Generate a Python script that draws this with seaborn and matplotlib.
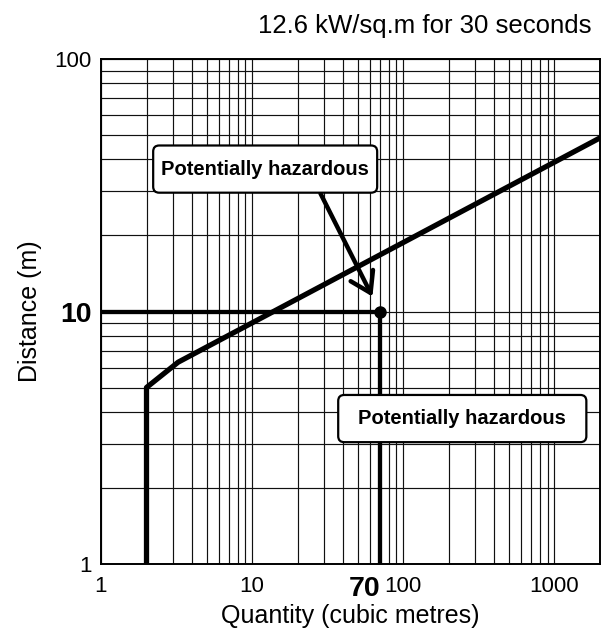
import numpy as np
import pandas as pd
import matplotlib
matplotlib.use("Agg")
import matplotlib.pyplot as plt
from matplotlib.ticker import LogLocator, NullFormatter
from matplotlib.patches import BoxStyle
import seaborn as sns

# Separation distance curve (quantity in m^3, distance in m)
quantity = [2, 2, 3.24, 2000]
distance = [1, 5, 6.3, 48.7]

# Worked example reading
mark_quantity = 70
mark_distance = 10

x_ticks = [1, 10, 70, 100, 1000]
x_tick_labels = ["1", "10", "70", "100", "1000"]
y_ticks = [1, 10, 100]
y_tick_labels = ["1", "10", "100"]

title = "12.6 kW/sq.m for 30 seconds"
x_label = "Quantity (cubic metres)"
y_label = "Distance (m)"
note_text = "Potentially hazardous"

sns.set_style("white")
plt.rcParams["font.family"] = ["Liberation Sans", "DejaVu Sans"]
plt.rcParams["text.color"] = "black"


def padded_round(padx, pady, radius=0.3):
    """Rounded box with separate horizontal and vertical padding."""
    base = BoxStyle.Round(pad=0, rounding_size=radius)

    def style(x0, y0, width, height, mutation_size):
        px = padx * mutation_size
        py = pady * mutation_size
        return base(x0 - px, y0 - py, width + 2 * px, height + 2 * py, mutation_size)
    return style


fig = plt.figure(figsize=(6.1, 6.33), dpi=100)
ax = fig.add_axes([101 / 610, 69 / 633, 499 / 610, 505 / 633])
ax.set_xscale("log")
ax.set_yscale("log")
ax.set_xlim(1, 2000)
ax.set_ylim(1, 100)

# Full log-paper grid
for axis in (ax.xaxis, ax.yaxis):
    axis.set_minor_locator(LogLocator(base=10, subs=np.arange(2, 10), numticks=20))
    axis.set_minor_formatter(NullFormatter())
ax.grid(which="both", color="#111111", linewidth=0.85)
ax.set_axisbelow(True)
for sp in ax.spines.values():
    sp.set_color("black")
    sp.set_linewidth(1.4)

# Curve
curve = pd.DataFrame({"quantity": quantity, "distance": distance})
sns.lineplot(data=curve, x="quantity", y="distance", sort=False, estimator=None,
             color="black", linewidth=3.8, ax=ax)

# Reading lines and point
ax.plot([1, mark_quantity, mark_quantity], [mark_distance, mark_distance, 1],
        color="black", linewidth=3.1, solid_capstyle="butt", zorder=3)
ax.plot([mark_quantity], [mark_distance], "o", color="black", markersize=8, zorder=4)

# Ticks
ax.set_xticks(x_ticks, x_tick_labels)
ax.set_yticks(y_ticks, y_tick_labels)
ax.tick_params(which="both", length=0)
ax.tick_params(axis="x", pad=9, labelsize=16, colors="black")
ax.tick_params(axis="y", pad=7, labelsize=16, colors="black")
for lab in ax.get_xticklabels():
    if lab.get_text() == str(mark_quantity):
        lab.set_fontweight("bold")
        lab.set_fontsize(20.5)
        lab.set_horizontalalignment("right")
for lab in ax.get_yticklabels():
    if lab.get_text() == str(mark_distance):
        lab.set_fontweight("bold")
        lab.set_fontsize(20.5)

ax.set_xlabel(x_label, fontsize=18, color="black", labelpad=1)
ax.set_ylabel(y_label, fontsize=18, color="black", labelpad=9)

fig.text(592 / 610, 1 - 26 / 633, title, ha="right", va="center", fontsize=18.5, color="black")

# Callouts
box_upper = dict(boxstyle=padded_round(0.4, 0.7), fc="white", ec="black", lw=1.6)
box_lower = dict(boxstyle=padded_round(1.0, 0.7), fc="white", ec="black", lw=1.6)
ax.annotate(note_text, xy=(mark_quantity, mark_distance), xytext=(0.329, 0.782),
            textcoords="axes fraction", ha="center", va="center", color="black",
            fontsize=14.5, fontweight="bold", bbox=box_upper, zorder=6,
            arrowprops=dict(arrowstyle="->,head_length=0.7,head_width=0.45",
                            lw=3.2, color="black", mutation_scale=20,
                            shrinkA=0, shrinkB=12, relpos=(0.73, 0)))
ax.text(0.724, 0.288, note_text, transform=ax.transAxes, ha="center", va="center",
        color="black", fontsize=14.5, fontweight="bold", bbox=box_lower, zorder=6)

fig.savefig("out.png", dpi=100)
